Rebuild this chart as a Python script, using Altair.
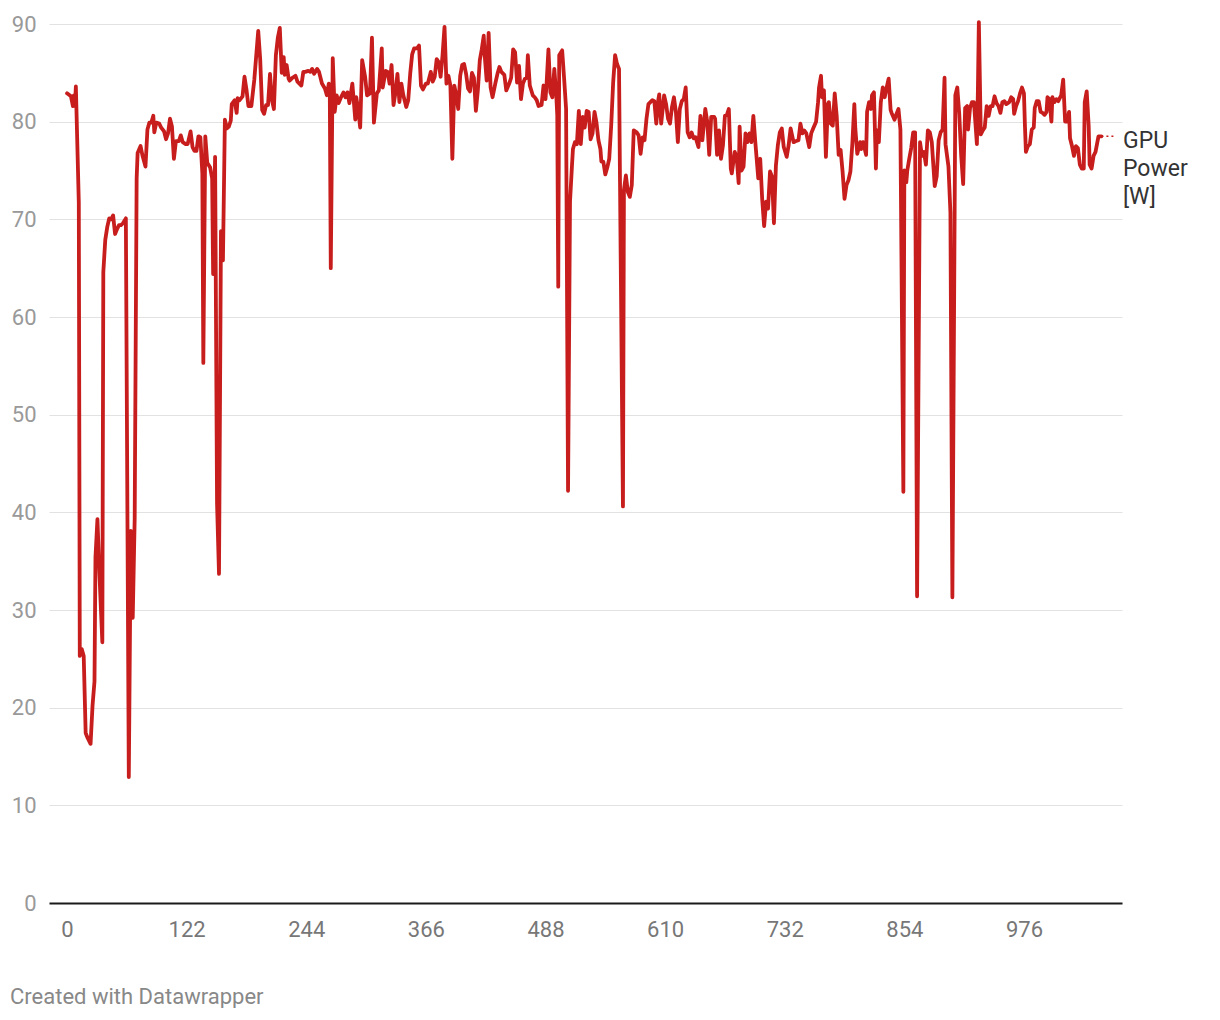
import altair as alt
import pandas as pd

# time index (samples) and GPU power [W]
t = [0, 4, 6, 7, 8, 9, 12, 13, 15, 17, 19, 21, 24, 26, 28, 29, 31, 33, 36, 37, 39, 41, 43, 45, 47, 49, 51, 53, 55, 57, 60,
     63, 65, 67, 69, 71, 72, 75, 77, 80, 82, 84, 86, 88, 89, 91, 94, 96, 99, 101, 103, 105, 107, 109, 111, 114, 116, 118,
     121, 123, 126, 128, 130, 132, 134, 136, 138, 139, 141, 143, 146, 148, 149, 151, 153, 155, 157, 159, 161, 163, 165,
     167, 168, 171, 173, 174, 176, 179, 181, 183, 185, 188, 191,
     195, 197, 199, 201, 203, 205, 207, 209, 211, 213, 215, 217, 219, 221, 222, 224, 226, 227, 230, 233, 235, 239, 241,
     243, 246, 248, 250, 252, 255, 257, 260, 263, 265, 267, 268, 269, 271, 273, 275, 277, 279, 282, 284, 286, 288, 291,
     294, 295, 297, 299, 301, 304, 306, 309, 311, 313, 316, 318, 321, 322, 325, 327, 329, 331, 333, 335, 337, 339, 341,
     343, 346, 348, 350, 352, 354, 357, 359, 361, 363, 366, 368, 371, 373, 375, 377, 379, 381, 383, 385, 387, 389, 391,
     393, 395, 397, 399, 401, 403, 405, 407, 409,
     411, 413, 415, 417, 419, 421, 423, 425, 426, 428, 430, 432, 434, 437, 439, 441, 443, 446, 448, 451, 453, 455, 457,
     459, 461, 463, 465, 467, 469, 470, 472, 475, 477, 479, 481, 484, 486, 488, 489, 491, 493, 495, 497, 499, 500, 501,
     502, 505, 507, 509, 511, 513, 515, 516, 518, 520, 522, 524, 526, 528, 530, 532, 534, 536, 538, 540, 542, 544, 545,
     547, 549, 551, 553, 555, 557, 559, 561, 563, 564, 567, 568, 570, 572, 574, 576, 578, 581, 583, 585, 587, 589, 591,
     593, 595, 597, 599, 601, 603, 604, 606, 609, 611, 613, 615, 617, 619, 621, 623,
     625, 627, 629, 631, 633, 635, 637, 639, 641, 644, 646, 648, 651, 653, 655, 657, 660, 661, 663, 665, 667, 669, 671,
     673, 675, 677, 678, 681, 683, 685, 686, 688, 690, 692, 694, 696, 698, 700, 702, 705, 707, 709, 711, 713, 715, 717,
     719, 721, 723, 725, 727, 729, 731, 734, 736, 738, 741, 743, 746, 748, 750, 752, 754, 757, 759, 761, 764, 766, 767,
     769, 770, 772, 774, 776, 777, 779, 781, 783, 785, 787, 789, 791, 793, 795, 797, 799, 801, 803, 804, 806, 809, 810,
     812, 815, 816, 818, 820, 821, 823, 825, 826, 828, 830, 832, 834, 836, 838,
     840, 841, 844, 846, 848, 850, 853, 854, 856, 857, 859, 861, 863, 865, 867, 870, 872, 874, 876, 878, 880, 882, 885,
     887, 889, 891, 893, 895, 896, 899, 901, 903, 906, 908, 910, 912, 914, 916, 918, 919, 921, 923, 925, 928, 929, 930,
     932, 934, 936, 938, 940, 942, 944, 946, 948, 950, 952, 954, 956, 958, 961, 963, 965, 966, 968, 970, 972, 974, 976,
     977, 978, 980, 982, 984, 986, 987, 989, 991, 993, 995, 997, 999, 1000, 1002, 1004, 1005, 1007, 1009, 1011, 1012,
     1014, 1016, 1018, 1020, 1022, 1023, 1025, 1027, 1029, 1031, 1033, 1035, 1037, 1038, 1040, 1042, 1043, 1045, 1047,
     1049, 1052, 1055]

watts = [82.9, 82.6, 81.6, 82.7, 81.6, 83.6, 71.7, 25.3, 26.0, 25.3, 17.4, 16.9, 16.3, 20.2, 22.7, 35.4, 39.3, 33.8, 26.7,
         64.6, 67.9, 69.2, 70.1, 70.0, 70.4, 68.5, 69.0, 69.4, 69.4, 69.6, 70.1,
         12.9, 38.1, 29.2, 39.4, 74.2, 76.8, 77.5, 76.5, 75.4, 79.2, 79.9, 79.9, 80.6, 78.9, 79.9, 79.8, 79.4, 79.0, 78.2,
         78.8, 80.3, 79.5, 76.2, 78.0, 78.0, 78.6, 77.9, 77.7, 77.7, 79.0, 77.4, 77.0, 77.0, 78.5, 78.4, 74.7, 55.3, 78.5,
         75.8, 75.3, 74.2, 64.4, 76.4, 40.9, 33.7, 68.8, 65.8, 80.2, 79.3, 79.5, 80.1, 81.8, 82.2, 80.9, 82.4, 82.2, 82.6,
         84.6, 83.3, 81.6, 81.6, 84.3,
         89.3, 86.4, 81.2, 80.8, 81.7, 81.7, 84.9, 82.2, 81.3, 86.8, 88.6, 89.6, 85.0, 86.6, 84.8, 85.8, 84.4, 84.2, 84.5,
         84.7, 84.1, 83.7, 85.1, 85.1, 85.2, 85.1, 85.4, 84.9, 85.4, 85.1, 83.9, 83.4, 82.7, 83.9, 82.7, 65.0, 86.5, 81.0,
         82.7, 81.9, 82.4, 83.0, 82.5, 83.0, 81.9, 83.9, 80.2, 82.5, 81.2, 79.4, 86.3, 84.6, 82.7, 82.9, 88.6, 79.9, 82.9,
         83.2, 87.5, 83.5, 85.2, 85.1, 83.9, 85.8, 81.7, 83.0, 84.9, 82.0, 83.9, 82.7, 81.5, 82.2, 84.9, 86.9, 87.5, 87.5,
         87.8, 83.7, 83.3, 83.9, 83.9, 85.1, 84.1, 84.6, 86.4, 86.1, 84.6, 86.8, 89.7, 83.9, 84.7, 83.7, 76.2, 83.7, 82.7,
         81.3, 84.7, 85.8, 85.9, 84.9, 83.4,
         83.1, 85.0, 84.5, 81.1, 83.2, 86.3, 87.4, 88.8, 86.8, 84.2, 89.1, 83.5, 82.5, 84.0, 84.9, 85.6, 85.1, 84.8, 83.2,
         83.9, 84.5, 87.4, 87.1, 84.0, 85.7, 82.3, 83.9, 84.4, 84.5, 86.8, 83.7, 82.7, 82.5, 82.2, 81.6, 81.7, 83.7, 82.3,
         83.7, 87.4, 83.0, 82.5, 85.4, 82.7, 80.7, 63.1, 86.8, 87.3, 84.4, 81.3, 42.2, 71.8, 75.5, 77.2, 77.9, 77.7, 81.1,
         77.7, 80.5, 79.4, 81.1, 81.0, 78.2, 78.8, 81.0, 79.9, 78.1, 77.2, 75.9, 75.9, 74.6, 75.3, 76.2, 79.6, 84.0, 86.8,
         85.9, 85.4, 73.8, 40.6, 73.0, 74.5, 72.8, 72.3, 73.5, 79.1, 78.9, 78.6, 76.7, 78.4, 78.1, 80.3, 81.8, 82.0, 82.2,
         82.1, 79.8, 82.2, 82.8, 79.8, 82.7, 81.8, 80.3, 79.8, 81.5, 82.5, 81.0, 77.9,
         81.3, 82.1, 82.3, 83.5, 78.9, 78.4, 78.9, 78.3, 78.4, 77.4, 80.6, 78.1, 81.3, 80.0, 76.6, 80.5, 80.5, 80.3, 76.6,
         79.1, 76.2, 77.6, 80.6, 80.7, 81.3, 75.2, 74.7, 76.9, 76.4, 73.7, 79.5, 75.0, 75.4, 78.8, 77.9, 78.8, 77.9, 80.6,
         77.9, 74.2, 76.2, 72.1, 69.3, 71.8, 71.1, 74.9, 74.4, 69.6, 75.5, 77.6, 78.9, 79.3, 77.4, 76.4, 77.6, 79.3, 77.9,
         78.0, 78.1, 79.8, 78.8, 79.1, 78.8, 77.4, 78.8, 79.3, 80.0, 82.0, 83.5, 84.7, 82.5, 83.2, 76.4, 81.8, 82.0, 79.8,
         79.6, 82.9, 80.6, 76.6, 77.1, 74.9, 72.1, 73.5, 74.0, 74.9, 77.8, 81.8, 79.3, 76.7, 77.9, 77.2, 77.9, 76.6, 81.0,
         82.0, 81.3, 82.7, 83.0, 75.2, 79.1, 77.9, 82.0, 83.5, 82.5, 83.5, 84.4,
         81.2, 80.9, 80.2, 80.8, 81.3, 79.2, 42.1, 75.0, 73.8, 75.0, 76.2, 77.3, 78.9, 78.9, 31.4, 77.9, 76.5, 76.9, 75.6,
         79.1, 78.9, 77.9, 73.4, 74.4, 78.1, 78.9, 79.2, 84.5, 77.7, 75.4, 70.7, 31.3, 82.7, 83.5, 80.8, 76.5, 73.6, 81.4,
         81.6, 79.2, 81.4, 82.0, 82.0, 77.7, 83.1, 90.2, 78.7, 79.1, 79.4, 81.6, 80.6, 81.6, 81.6, 82.6, 81.9, 81.6, 80.9,
         82.0, 82.1, 81.8, 82.0, 82.5, 82.3, 80.8, 81.6, 82.1, 82.9, 83.5, 82.9, 79.6, 76.9, 77.5, 77.7, 79.2, 79.4, 81.4,
         82.1, 82.1, 81.0, 80.9, 80.7, 81.0, 82.5, 82.3, 80.0, 82.5, 82.0, 82.3, 82.1, 82.3, 82.7, 84.3, 80.0, 80.0, 81.0,
         78.3, 77.5, 76.5, 77.5, 77.3, 75.6, 75.2, 75.2, 82.0, 83.1, 79.6, 75.6, 75.2, 76.5, 76.9, 78.5, 78.5]

x_ticks = [0, 122, 244, 366, 488, 610, 732, 854, 976]
y_ticks = [0, 10, 20, 30, 40, 50, 60, 70, 80, 90]
series_label = ["GPU", "Power", "[W]"]
credit = "Created with Datawrapper"

df = pd.DataFrame({"t": t, "watts": watts})
last = pd.DataFrame({"t": [t[-1]], "watts": [watts[-1]], "label": [series_label]})
credit_df = pd.DataFrame({"text": [credit]})

FONT = "Roboto"
RED = "#c71e1d"

x_scale = alt.Scale(domain=[-18.4, 1076], nice=False, zero=False)
y_scale = alt.Scale(domain=[0, 90], nice=False)

x_axis = alt.Axis(values=x_ticks, grid=False, ticks=False, domain=True, domainColor="#1a1a1a", domainWidth=2,
                  labelFont=FONT, labelFontSize=22, labelColor="#777777", labelPadding=16, title=None,
                  labelFlush=False)
y_axis = alt.Axis(values=y_ticks, grid=True, gridColor="#e2e2e2", gridWidth=1, ticks=False, domain=False,
                  labelFont=FONT, labelFontSize=22, labelColor="#999999", labelPadding=13, title=None,
                  labelBaseline="middle")

line = alt.Chart(df).mark_line(color=RED, strokeWidth=3.8, strokeJoin="round", strokeCap="round").encode(
    x=alt.X("t:Q", scale=x_scale, axis=x_axis),
    y=alt.Y("watts:Q", scale=y_scale, axis=y_axis),
)

connector = alt.Chart(last).mark_rule(color=RED, strokeWidth=1.5, strokeDash=[2, 3]).encode(
    x=alt.X("t:Q", scale=x_scale),
    x2=alt.value(1066),
    y=alt.Y("watts:Q", scale=y_scale),
)

label = alt.Chart(last).mark_text(align="left", baseline="top", font=FONT, fontSize=23, lineHeight=28,
                                  color="#333333", dy=-6).encode(
    x=alt.value(1074),
    y=alt.Y("watts:Q", scale=y_scale),
    text="label",
)

credits = alt.Chart(credit_df).mark_text(align="left", baseline="middle", font=FONT, fontSize=22,
                                         color="#888888").encode(
    x=alt.value(-39),
    y=alt.value(973),
    text="text:N",
)

chart = alt.layer(line, connector, label, credits).properties(
    width=1073,
    height=879,
    background="white",
    autosize=alt.AutoSizeParams(type="none"),
    padding={"left": 41, "top": 16, "right": 90, "bottom": 105},
).configure_view(strokeWidth=0, stroke="transparent")

chart.save("out.html", embed_options={"renderer": "svg", "actions": False})
